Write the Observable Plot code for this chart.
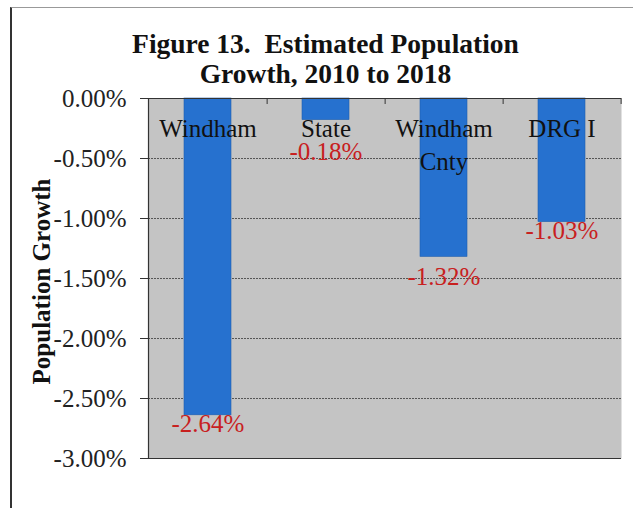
<!DOCTYPE html>
<html>
<head>
<meta charset="utf-8">
<script src="https://cdn.jsdelivr.net/npm/d3@7"></script>
<script src="https://cdn.jsdelivr.net/npm/@observablehq/plot@0.6"></script>
<style>
  html, body { margin: 0; padding: 0; background: #fff; }
  #wrap { position: relative; width: 633px; height: 508px; overflow: hidden; }
  #border { position: absolute; left: 10px; top: 7px; width: 700px; height: 600px;
            border-left: 2px solid #333; border-top: 1px solid #999; box-sizing: border-box; }
  #title { position: absolute; left: 0; top: 29px; width: 651px; text-align: center;
           font-family: "Liberation Serif", "Times New Roman", serif; font-weight: bold;
           font-size: 27.5px; line-height: 30px; color: #111; white-space: pre; }
  #chart { position: absolute; left: 0; top: 0; }
</style>
</head>
<body>
<div id="wrap">
  <div id="border"></div>
  <div id="chart"></div>
  <div id="title">Figure 13.  Estimated Population
Growth, 2010 to 2018</div>
</div>
<script>
const categories = ["Windham", "State", "Windham Cnty", "DRG I"];
const categoryLabels = ["Windham", "State", "Windham\nCnty", "DRG I"];
const growth = [-2.64, -0.18, -1.32, -1.03];
const valueLabels = ["-2.64%", "-0.18%", "-1.32%", "-1.03%"];
const yTicks = [0, -0.5, -1, -1.5, -2, -2.5, -3];
const yTickLabels = ["0.00%", "-0.50%", "-1.00%", "-1.50%", "-2.00%", "-2.50%", "-3.00%"];
const yLabel = "Population Growth";

const data = categories.map((c, i) => ({cat: c, label: categoryLabels[i], value: growth[i], vlabel: valueLabels[i]}));

const W = 633, H = 508, mL = 148, mR = 12, mT = 98, mB = 50;
const step = (W - mL - mR) / categories.length;
const plotH = H - mT - mB;
const labelDy = {"Windham": -1, "State": 22, "Windham Cnty": 10, "DRG I": -1};
const serif = "Liberation Serif, Times New Roman, serif";

const chart = Plot.plot({
  width: W, height: H,
  marginLeft: mL, marginRight: mR, marginTop: mT, marginBottom: mB,
  style: {background: "transparent", fontFamily: serif, color: "#222"},
  x: {domain: categories, paddingInner: 0.6, paddingOuter: 0.3, axis: null},
  y: {domain: [-3, 0]},
  marks: [
    Plot.frame({fill: "#c4c4c4", stroke: null}),
    Plot.gridY(yTicks.slice(1, -1), {stroke: "#4a4a4a", strokeOpacity: 0.9, strokeDasharray: "2,1"}),
    Plot.barY(data, {x: "cat", y: "value", fill: "#2671cf", stroke: "#1f5fb0", strokeWidth: 0.6}),
    Plot.ruleY([0, -3], {stroke: "#333", strokeWidth: 1.2}),
    Plot.frame({anchor: "left", stroke: "#333", strokeWidth: 1.2}),
    Plot.ruleX(categories, {x: d => d, dx: step / 2, insetBottom: plotH - 6, stroke: "#333"}),
    Plot.axisY({
      ticks: yTicks, tickFormat: (d) => yTickLabels[yTicks.indexOf(d)],
      tickSize: 8, tickPadding: 14, fontSize: 25, label: null, stroke: "#333", fill: "#222"
    }),
    Plot.text(data, {
      x: "cat", frameAnchor: "top", text: "label", lineAnchor: "top", dy: 15,
      lineHeight: 1.32, fontSize: 25, fill: "#111"
    }),
    ...categories.map(c => Plot.text(data, {
      filter: d => d.cat === c,
      x: "cat", y: "value", text: "vlabel", lineAnchor: "top", dy: labelDy[c],
      fontSize: 25, fill: "#c8201e"
    })),
    Plot.text([yLabel], {
      frameAnchor: "left", rotate: -90, dx: -107, dy: 3, text: d => d, textAnchor: "middle",
      fontSize: 25, fontWeight: "bold", fill: "#111"
    })
  ]
});
document.getElementById("chart").appendChild(chart);
</script>
</body>
</html>
